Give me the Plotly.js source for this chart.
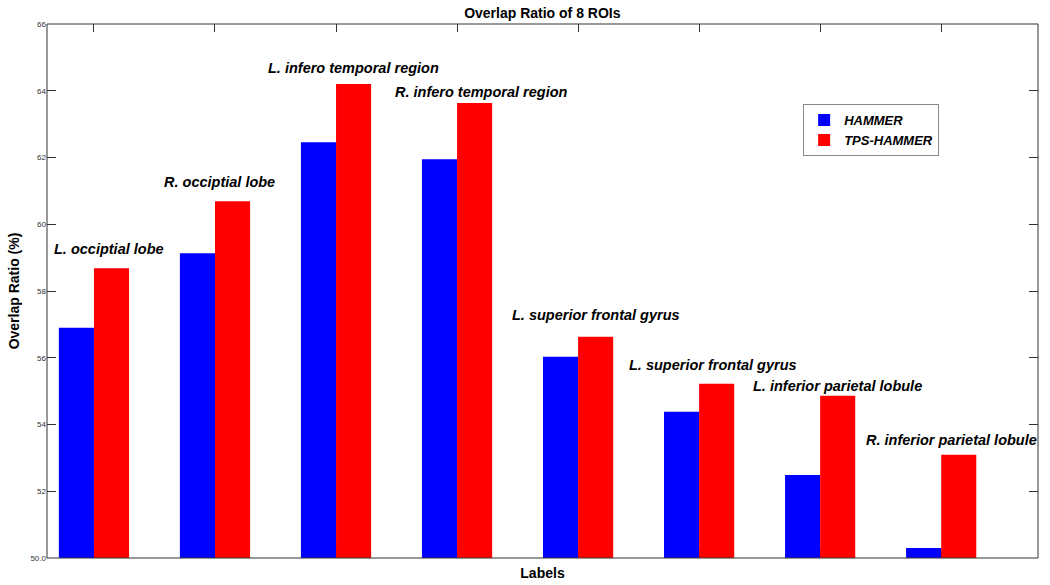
<!DOCTYPE html>
<html>
<head>
<meta charset="utf-8">
<script src="https://cdn.plot.ly/plotly-3.0.1.min.js"></script>
<style>html,body{margin:0;padding:0;background:#fff;}#chart{width:1050px;height:585px;}</style>
</head>
<body>
<div id="chart"></div>
<script>
// Data
const groupIndex = [1, 2, 3, 4, 5, 6, 7, 8];
const roiLabels = [
  "L. occiptial lobe",
  "R. occiptial lobe",
  "L. infero temporal region",
  "R. infero temporal region",
  "L. superior frontal gyrus",
  "L. superior frontal gyrus",
  "L. inferior parietal lobule",
  "R. inferior parietal lobule"
];
const hammer    = [56.90, 59.13, 62.46, 61.95, 56.03, 54.38, 52.49, 50.30];
const tpsHammer = [58.68, 60.69, 64.20, 63.63, 56.63, 55.22, 54.86, 53.09];
const yTickVals = [50, 52, 54, 56, 58, 60, 62, 64, 66];
const yTickText = ["50.0", "52", "54", "56", "58", "60", "62", "64", "66"];

// Label placement (layout only)
const labelPos = [
  [0.655, 59.25], [1.564, 61.26], [2.424, 64.68], [3.473, 63.96],
  [4.440, 57.27], [5.407, 55.79], [6.432, 55.16], [7.366, 53.54]
];

const FONT = "Liberation Sans, Arial, Helvetica, sans-serif";

const traces = [
  { type: "bar", name: "HAMMER", x: groupIndex, y: hammer,
    marker: { color: "#0000FF", line: { width: 0 } } },
  { type: "bar", name: "TPS-HAMMER", x: groupIndex, y: tpsHammer,
    marker: { color: "#FF0000", line: { width: 0 } } }
];

const annotations = roiLabels.map((t, i) => ({
  x: labelPos[i][0], y: labelPos[i][1], xref: "x", yref: "y",
  text: "<b><i>" + t + "</i></b>", showarrow: false,
  xanchor: "left", yanchor: "middle",
  font: { family: FONT, size: 14.5, color: "#000" }
}));

const layout = {
  width: 1050, height: 585,
  margin: { l: 47, r: 12, t: 24, b: 27, pad: 0 },
  paper_bgcolor: "#fff", plot_bgcolor: "#fff",
  font: { family: FONT, color: "#000" },
  title: { text: "<b>Overlap Ratio of 8 ROIs</b>", font: { family: FONT, size: 14, color: "#000" },
           x: 0.5165, xanchor: "center", y: 0.978, yanchor: "middle" },
  barmode: "group", bargap: 0.42, bargroupgap: 0,
  showlegend: true,
  legend: { x: 0.763, y: 0.850, xanchor: "left", yanchor: "top",
            bgcolor: "#fff", bordercolor: "#888", borderwidth: 1,
            font: { family: FONT, size: 13, color: "#000", style: "italic", weight: "bold" },
            tracegroupgap: 0, itemwidth: 30 },
  xaxis: {
    range: [0.612, 8.80], tickvals: groupIndex, showticklabels: false,
    ticks: "inside", ticklen: 8, tickcolor: "#333", mirror: "ticks",
    showline: false, showgrid: false, zeroline: false, layer: "below traces",
    title: { text: "<b>Labels</b>", font: { family: FONT, size: 14, color: "#000" }, standoff: 10 }
  },
  yaxis: {
    range: [50, 66], tickvals: yTickVals, ticktext: yTickText,
    ticks: "inside", ticklen: 9, tickcolor: "#333", mirror: "ticks",
    showline: false, showgrid: false, zeroline: false,
    tickfont: { family: FONT, size: 8, color: "#333" },
    title: { text: "<b>Overlap Ratio (%)</b>", font: { family: FONT, size: 14, color: "#000" }, standoff: 7 }
  },
  shapes: [
    { type: "rect", xref: "paper", yref: "paper", x0: 0, x1: 1, y0: 0, y1: 1,
      line: { color: "#333", width: 1 }, layer: "above" }
  ],
  annotations: annotations
};

Plotly.newPlot("chart", traces, layout, { displayModeBar: false, staticPlot: true });
</script>
</body>
</html>
